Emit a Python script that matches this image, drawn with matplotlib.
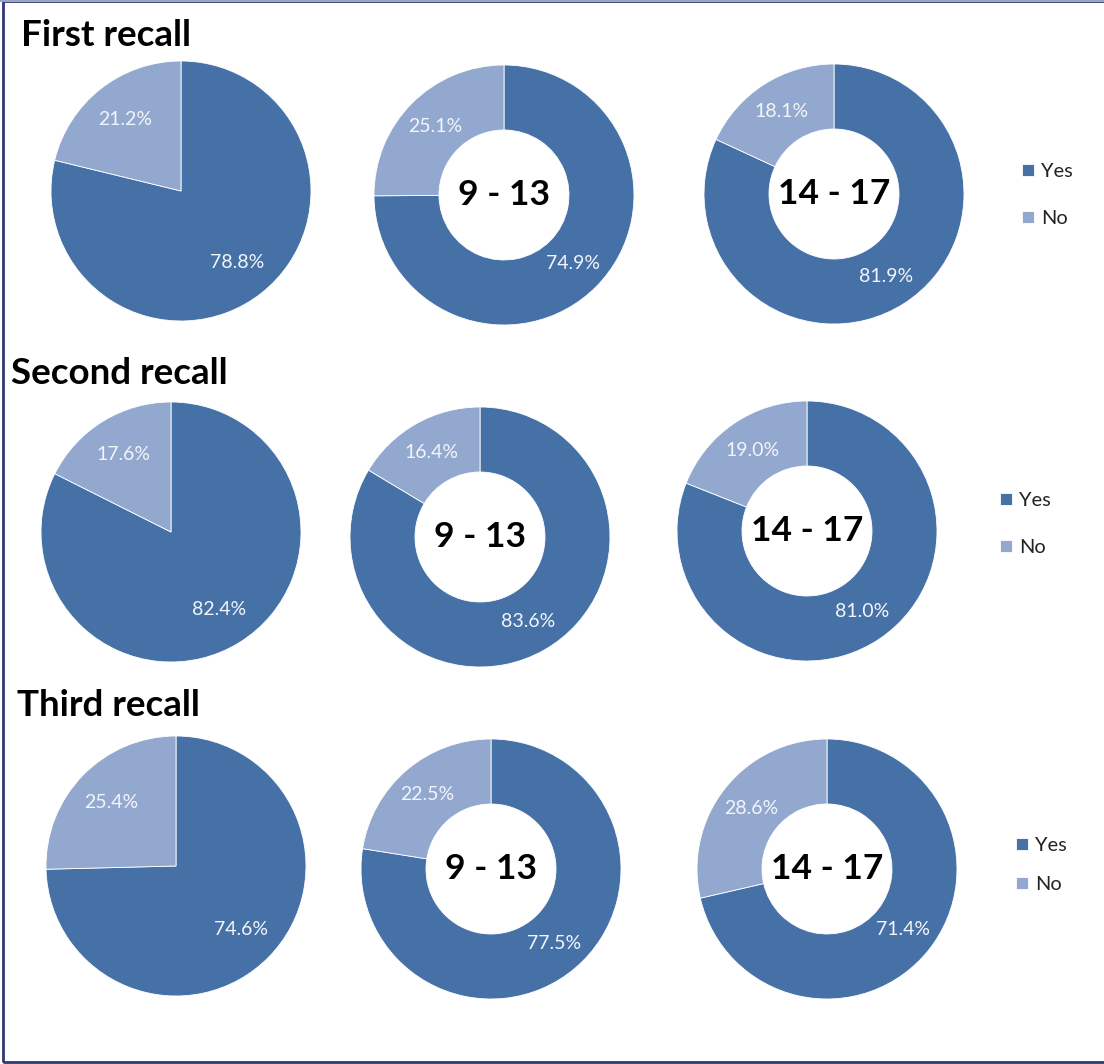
import matplotlib.pyplot as plt
from matplotlib.patches import Rectangle

plt.rcParams['font.family'] = ['Lato', 'DejaVu Sans']

# data
rows = ['First recall', 'Second recall', 'Third recall']
groups = ['', '9 - 13', '14 - 17']
labels = ['Yes', 'No']
yes_vals = [[78.8, 74.9, 81.9],
            [82.4, 83.6, 81.0],
            [74.6, 77.5, 71.4]]
no_vals = [[21.2, 25.1, 18.1],
           [17.6, 16.4, 19.0],
           [25.4, 22.5, 28.6]]

dark = '#4571A7'
light = '#93A8CE'

W, H = 1104, 1064
fig = plt.figure(figsize=(W / 100, H / 100), dpi=100)

# pie centres in pixels (x, y from top)
centres = [[(181, 191), (504, 195), (834, 194)],
           [(171, 532), (480, 537), (807, 531)],
           [(176, 866), (491, 869), (827, 869)]]
R = 130
title_pos = [(21, 35), (11, 373), (17, 706)]
legend_pos = [(1004, 195), (982, 524), (998, 865)]
legend_gap = [1.5, 1.5, 1.1]

for i in range(3):
    fig.text(title_pos[i][0] / W, 1 - title_pos[i][1] / H, rows[i],
             fontsize=26.5, fontweight='bold', va='center', ha='left')
    for j in range(3):
        cx, cy = centres[i][j]
        ax = fig.add_axes([(cx - R) / W, (H - cy - R) / H, 2 * R / W, 2 * R / H])
        vals = [yes_vals[i][j], no_vals[i][j]]
        donut = j > 0
        wp = dict(edgecolor='white', linewidth=0.6)
        if donut:
            wp['width'] = 0.5
        wedges, _, autotexts = ax.pie(vals, colors=[dark, light], startangle=90,
                                      counterclock=False, radius=1,
                                      autopct='%.1f%%',
                                      pctdistance=0.75 if donut else 0.70,
                                      wedgeprops=wp,
                                      textprops=dict(color='#F2F5FA', fontsize=14))
        ax.set_xlim(-1, 1)
        ax.set_ylim(-1, 1)
        ax.set_aspect('equal')
        ax.axis('off')
        if donut:
            ax.text(0, 0, groups[j], ha='center', va='center',
                    fontsize=25.5, fontweight='bold', color='black')
        if j == 2:
            lx, ly = legend_pos[i]
            fig.legend(wedges, labels, loc='center left',
                       bbox_to_anchor=(lx / W, 1 - ly / H),
                       frameon=False, fontsize=14.4, handlelength=0.6,
                       handleheight=0.6, handletextpad=0.35,
                       labelspacing=legend_gap[i], labelcolor='#222222')

# frame around the figure
fig.patches.append(Rectangle((3 / W, 2 / H), 1.2, 1 - 3 / H, transform=fig.transFigure,
                             fill=False, edgecolor='#2E3A6E', linewidth=2, zorder=10))
fig.patches.append(Rectangle((0, 1 - 2 / H), 1, 2 / H, transform=fig.transFigure,
                             facecolor='#9AA5C8', edgecolor='none', zorder=11))

fig.savefig('out.png', dpi=100)
